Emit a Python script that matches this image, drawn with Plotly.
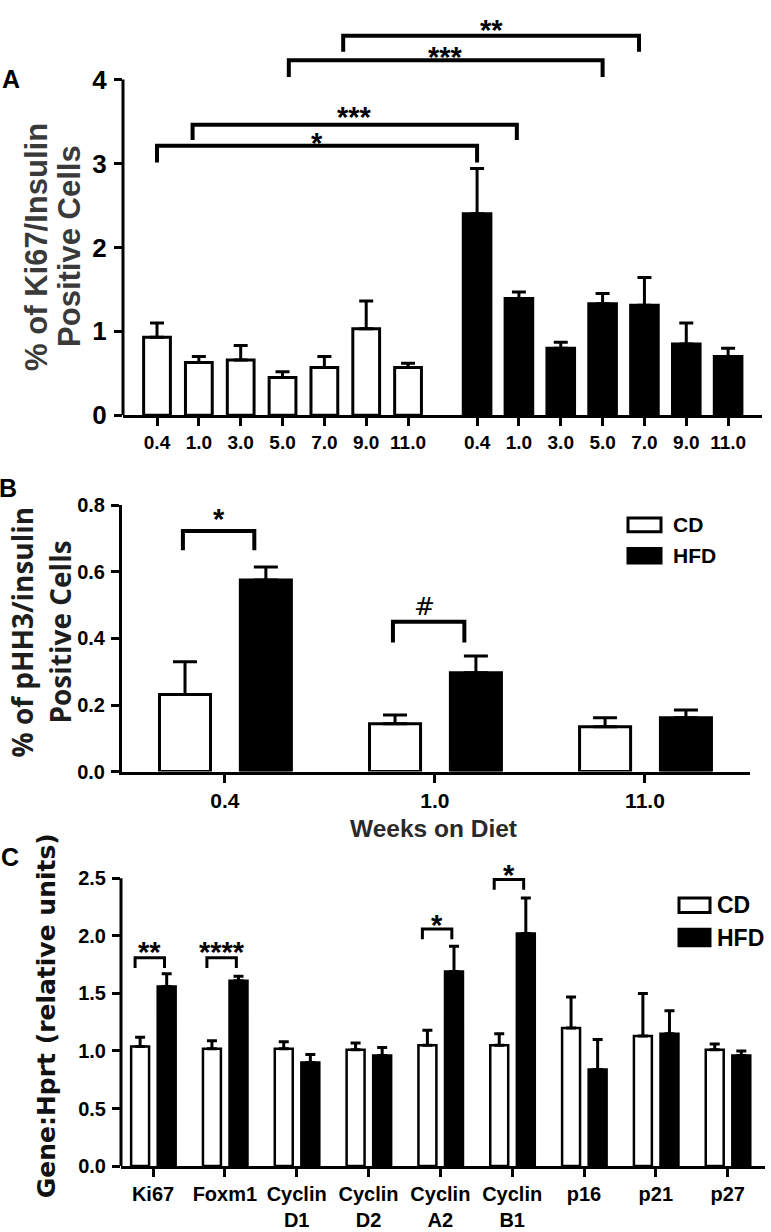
import plotly.graph_objects as go

W, H = 771, 1232

# ---------------- Panel A data ----------------
a_weeks = ["0.4", "1.0", "3.0", "5.0", "7.0", "9.0", "11.0"]
a_cd = [0.93, 0.63, 0.66, 0.45, 0.57, 1.03, 0.57]
a_cd_err = [0.17, 0.07, 0.17, 0.07, 0.13, 0.33, 0.05]
a_hfd = [2.40, 1.39, 0.80, 1.33, 1.31, 0.85, 0.70]
a_hfd_err = [0.54, 0.08, 0.07, 0.12, 0.33, 0.25, 0.10]
a_yticks = [0, 1, 2, 3, 4]
# brackets: (left group, left idx, left shift, right group, right idx, right shift, line y, leg drop, label, label y)
a_sig = [
    ("CD", 0, 0.0, "HFD", 0, 0.0, 3.21, 0.20, "*", 3.32),
    ("CD", 1, -0.15, "HFD", 1, -0.05, 3.46, 0.18, "***", 3.62),
    ("CD", 3, 0.15, "HFD", 3, 0.0, 4.23, 0.20, "***", 4.34),
    ("CD", 4, 0.45, "HFD", 4, -0.13, 4.52, 0.19, "**", 4.66),
]

# ---------------- Panel B data ----------------
b_weeks = ["0.4", "1.0", "11.0"]
b_cd = [0.232, 0.144, 0.135]
b_cd_err = [0.098, 0.026, 0.027]
b_hfd = [0.576, 0.297, 0.162]
b_hfd_err = [0.039, 0.050, 0.023]
b_yticks = [0.0, 0.2, 0.4, 0.6, 0.8]
# brackets: (category idx, line y, leg drop, label, label y)
b_sig = [
    (0, 0.723, 0.058, "*", 0.776),
    (1, 0.450, 0.062, "#", 0.497),
]

# ---------------- Panel C data ----------------
c_genes = ["Ki67", "Foxm1", "Cyclin<br>D1", "Cyclin<br>D2", "Cyclin<br>A2",
           "Cyclin<br>B1", "p16", "p21", "p27"]
c_cd = [1.04, 1.02, 1.02, 1.01, 1.05, 1.05, 1.20, 1.13, 1.01]
c_cd_err = [0.08, 0.07, 0.06, 0.06, 0.13, 0.10, 0.27, 0.37, 0.05]
c_hfd = [1.56, 1.61, 0.90, 0.96, 1.69, 2.02, 0.84, 1.15, 0.96]
c_hfd_err = [0.11, 0.04, 0.07, 0.07, 0.22, 0.31, 0.26, 0.20, 0.04]
c_yticks = [0.0, 0.5, 1.0, 1.5, 2.0, 2.5]
c_sig = [
    (0, 1.81, 0.09, "**", 1.91),
    (1, 1.81, 0.09, "****", 1.91),
    (4, 2.06, 0.09, "*", 2.15),
    (5, 2.49, 0.09, "*", 2.58),
]

# ---------------- helpers ----------------
def px(x):
    return x / W

def py(y):
    return 1 - y / H

BOLD = "Liberation Sans, Arial, sans-serif"
fig = go.Figure()

def add_bars(x, y, err, fill, xa, ya, width, offset, capw, lw):
    kw = dict(x=x, y=y, width=width, xaxis=xa, yaxis=ya,
              marker=dict(color=fill, line=dict(color="black", width=lw)),
              error_y=dict(type="data", array=err, arrayminus=[0] * len(err),
                           symmetric=False, color="black", thickness=3, width=capw),
              showlegend=False, hoverinfo="skip")
    if offset is not None:
        kw["offset"] = offset
    fig.add_trace(go.Bar(**kw))

shapes = []
annotations = []

def bracket(xref, yref, x0, x1, yt, drop, lw=3.5):
    shapes.append(dict(type="path", xref=xref, yref=yref,
                       path=f"M {x0},{yt - drop} L {x0},{yt} L {x1},{yt} L {x1},{yt - drop}",
                       line=dict(color="black", width=lw)))

def star(xref, yref, x, y, text, size=28, shift=-6, family=BOLD, weight="bold"):
    annotations.append(dict(xref=xref, yref=yref, x=x, y=y, text=text, showarrow=False,
                            xanchor="center", yanchor="middle", yshift=shift,
                            font=dict(family=family, size=size, color="black", weight=weight)))

# ---------------- Panel A ----------------
A_GAP = 0.65
a_pos_cd = list(range(len(a_weeks)))
a_pos_hfd = [i + len(a_weeks) + A_GAP for i in range(len(a_weeks))]
add_bars(a_pos_cd, a_cd, a_cd_err, "white", "x", "y", 0.64, None, 7, 3)
add_bars(a_pos_hfd, a_hfd, a_hfd_err, "black", "x", "y", 0.66, None, 7, 3)
for lg, li, ls, rg, ri, rs, yt, drop, lab, ly in a_sig:
    x0 = (a_pos_cd if lg == "CD" else a_pos_hfd)[li] + ls
    x1 = (a_pos_cd if rg == "CD" else a_pos_hfd)[ri] + rs
    bracket("x", "y", x0, x1, yt, drop, lw=4)
    star("x", "y", (x0 + x1) / 2, ly, lab, size=29)

# ---------------- Panel B ----------------
b_pos = list(range(len(b_weeks)))
B_W = 0.243
add_bars(b_pos, b_cd, b_cd_err, "white", "x2", "y2", B_W, -0.19 - B_W / 2, 12, 3)
add_bars(b_pos, b_hfd, b_hfd_err, "black", "x2", "y2", B_W, 0.195 - B_W / 2, 12, 3)
for ci, yt, drop, lab, ly in b_sig:
    x0, x1 = b_pos[ci] - 0.2, b_pos[ci] + 0.14
    bracket("x2", "y2", x0, x1, yt, drop, lw=4)
    if lab == "#":
        star("x2", "y2", (x0 + x1) / 2 - 0.02, ly, lab, size=25, shift=0,
             family="DejaVu Sans, sans-serif", weight="normal")
    else:
        star("x2", "y2", (x0 + x1) / 2, ly, lab, size=29)

# ---------------- Panel C ----------------
c_pos = list(range(len(c_genes)))
C_W = 0.25
add_bars(c_pos, c_cd, c_cd_err, "white", "x3", "y3", C_W, -0.18 - C_W / 2, 5, 2.5)
add_bars(c_pos, c_hfd, c_hfd_err, "black", "x3", "y3", C_W, 0.19 - C_W / 2, 5, 2.5)
for ci, yt, drop, lab, ly in c_sig:
    x0, x1 = c_pos[ci] - 0.25, c_pos[ci] + 0.16
    bracket("x3", "y3", x0, x1, yt, drop, lw=3)
    star("x3", "y3", (x0 + x1) / 2, ly, lab, size=29)

# y axis lines only up to the top tick
for ya, xa, top in (("y", "x", a_yticks[-1]), ("y3", "x3", c_yticks[-1])):
    shapes.append(dict(type="line", xref=f"{xa} domain", yref=ya, x0=0, x1=0, y0=0, y1=top,
                       line=dict(color="black", width=3)))

# ---------------- Legends (B and C) ----------------
def legend(x0, x1, boxes, tx, size):
    for (ya, yb, fill, label) in boxes:
        shapes.append(dict(type="rect", xref="paper", yref="paper",
                           x0=px(x0), x1=px(x1), y0=py(yb), y1=py(ya),
                           fillcolor=fill, line=dict(color="black", width=3)))
        annotations.append(dict(xref="paper", yref="paper", x=px(tx), y=py((ya + yb) / 2),
                                text=label, showarrow=False, xanchor="left", yanchor="middle",
                                font=dict(family=BOLD, size=size, color="black", weight="bold")))

legend(628, 661, [(518, 532, "white", "CD"), (549, 564, "black", "HFD")], 671, 21)
legend(679, 710, [(906, 921, "white", "CD"), (938, 955, "black", "HFD")], 715, 23)

# ---------------- Texts ----------------
def text(x, y, s, size, family=BOLD, color="black", angle=0, weight="bold"):
    annotations.append(dict(xref="paper", yref="paper", x=px(x), y=py(y), text=s,
                            showarrow=False, xanchor="center", yanchor="middle",
                            textangle=angle,
                            font=dict(family=family, size=size, color=color, weight=weight)))

text(11, 69, "A", 25)
text(8, 487, "B", 25)
text(10, 864, "C", 25)
text(37, 241, "% of Ki67/Insulin", 31, color="#3a3a3a", angle=-90)
text(70, 240, "Positive Cells", 31, color="#3a3a3a", angle=-90)
text(22, 635, "% of pHH3/insulin", 28, family="Open Sans, sans-serif", color="#1e1e1e", angle=-90)
text(60, 635, "Positive Cells", 28, family="Open Sans, sans-serif", color="#1e1e1e", angle=-90)
text(46, 1027, "Gene:Hprt (relative units)", 25, family="DejaVu Sans, sans-serif",
     color="#111111", angle=-90)
text(433, 835, "Weeks on Diet", 24.5, color="#2a2a2a")

# ---------------- Axes ----------------
def xax(domain, rng, tickvals, ticktext, anchor, size):
    return dict(domain=domain, range=rng, tickvals=tickvals, ticktext=ticktext, anchor=anchor,
                showline=True, linewidth=3, linecolor="black", ticks="outside", ticklen=8,
                tickwidth=2.5, tickcolor="black", showgrid=False, zeroline=False,
                tickfont=dict(family=BOLD, size=size, color="black", weight="bold"),
                fixedrange=True)

def yax(domain, rng, tickvals, anchor, size, showline):
    return dict(domain=domain, range=rng, tickvals=tickvals, anchor=anchor,
                showline=showline, linewidth=3, linecolor="black", ticks="outside", ticklen=8,
                tickwidth=2.5, tickcolor="black", showgrid=False, zeroline=False,
                ticklabelstandoff=2,
                tickfont=dict(family=BOLD, size=size, color="black", weight="bold"),
                fixedrange=True)

fig.update_layout(
    width=W, height=H, margin=dict(l=0, r=0, t=0, b=0),
    paper_bgcolor="white", plot_bgcolor="white", barmode="overlay", showlegend=False,
    xaxis=xax([px(123), px(762)], [-0.813, 14.46], a_pos_cd + a_pos_hfd, a_weeks + a_weeks, "y", 19),
    yaxis=yax([py(413), py(1.4)], [0, 4.8], a_yticks, "x", 26, False),
    xaxis2=xax([px(122), px(750)], [-0.49, 2.5], b_pos, b_weeks, "y2", 21),
    yaxis2=dict(yax([py(777), py(505)], [0, 0.8], b_yticks, "x2", 20, True), tickformat=".1f"),
    xaxis3=xax([px(121), px(765)], [-0.446, 8.52], c_pos, c_genes, "y3", 20),
    yaxis3=dict(yax([py(1180), py(862.5)], [0, 2.7], c_yticks, "x3", 20, False), tickformat=".1f"),
    shapes=shapes, annotations=annotations,
)

fig.write_html("out.html", config={"displayModeBar": False},
               post_script="document.body.style.margin='0';document.body.style.overflow='hidden';")
